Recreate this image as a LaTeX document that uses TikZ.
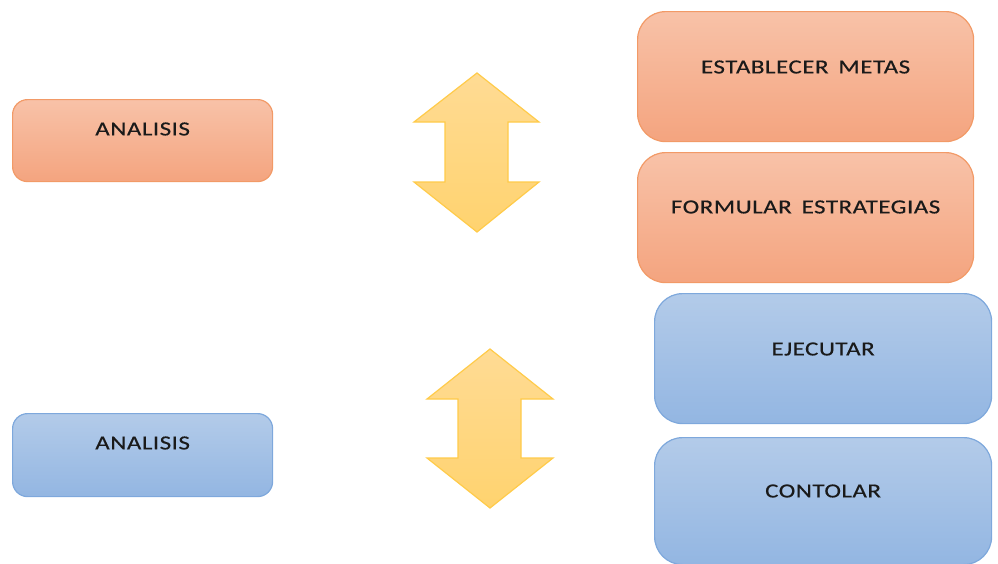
\documentclass[tikz,border=0pt]{standalone}
\usepackage{fontspec}
\newfontfamily\boxfont[FakeStretch=1.25,LetterSpace=2.5,WordSpace=1.6,FakeBold=0.4]{Carlito}
\definecolor{otop}{HTML}{F8C2A8}
\definecolor{obot}{HTML}{F4A47F}
\definecolor{oline}{HTML}{F29A67}
\definecolor{btop}{HTML}{B3CBE9}
\definecolor{bbot}{HTML}{93B6E2}
\definecolor{bline}{HTML}{7EA8DC}
\definecolor{ytop}{HTML}{FFDB94}
\definecolor{ybot}{HTML}{FFD36F}
\definecolor{yline}{HTML}{FFCB4A}
\definecolor{txt}{HTML}{1A1A1A}
\tikzset{
  boxbase/.style={draw, line width=1.2pt, anchor=north west, inner sep=0pt},
  obox/.style={boxbase, draw=oline, top color=otop, bottom color=obot},
  bbox/.style={boxbase, draw=bline, top color=btop, bottom color=bbot},
  lbl/.style={font=\boxfont\fontsize{20}{24}\selectfont, text=txt, inner sep=0pt},
  dblarrow/.style={draw=yline, line width=1.2pt, top color=ytop, bottom color=ybot, line join=miter}
}
\begin{document}
\begin{tikzpicture}[x=1pt,y=-1pt]
\useasboundingbox (0,0) rectangle (998,563);
% left boxes
\node[obox, rounded corners=15pt, minimum width=260pt, minimum height=82pt] (a1) at (12,99) {};
\node[lbl] (a1t) at ([yshift=-30pt]a1.north) {ANALISIS};
\node[bbox, rounded corners=15pt, minimum width=260pt, minimum height=83pt] (a2) at (12,413) {};
\node[lbl] (a2t) at ([yshift=-30pt]a2.north) {ANALISIS};
% right boxes
\node[obox, rounded corners=28pt, minimum width=336pt, minimum height=130pt] (m) at (637,11) {};
\node[lbl] (mt) at ([yshift=-56pt]m.north) {ESTABLECER METAS};
\node[obox, rounded corners=28pt, minimum width=336pt, minimum height=130pt] (f) at (637,152) {};
\node[lbl] (ft) at ([yshift=-55pt]f.north) {FORMULAR ESTRATEGIAS};
\node[bbox, rounded corners=28pt, minimum width=337pt, minimum height=130pt] (e) at (654,293) {};
\node[lbl] (et) at ([yshift=-56pt]e.north) {EJECUTAR};
\node[bbox, rounded corners=28pt, minimum width=337pt, minimum height=127pt] (c) at (654,437) {};
\node[lbl] (ct) at ([yshift=-54pt]c.north) {CONTOLAR};
% double arrows
\path[dblarrow] (477,73) -- (539,122) -- (508,122) -- (508,182) -- (539,182) -- (477,232)
  -- (414,182) -- (445,182) -- (445,122) -- (414,122) -- cycle;
\path[dblarrow] (490,349) -- (553,399) -- (521,399) -- (521,458) -- (553,458) -- (490,508)
  -- (427,458) -- (458,458) -- (458,399) -- (427,399) -- cycle;
\end{tikzpicture}
\end{document}
